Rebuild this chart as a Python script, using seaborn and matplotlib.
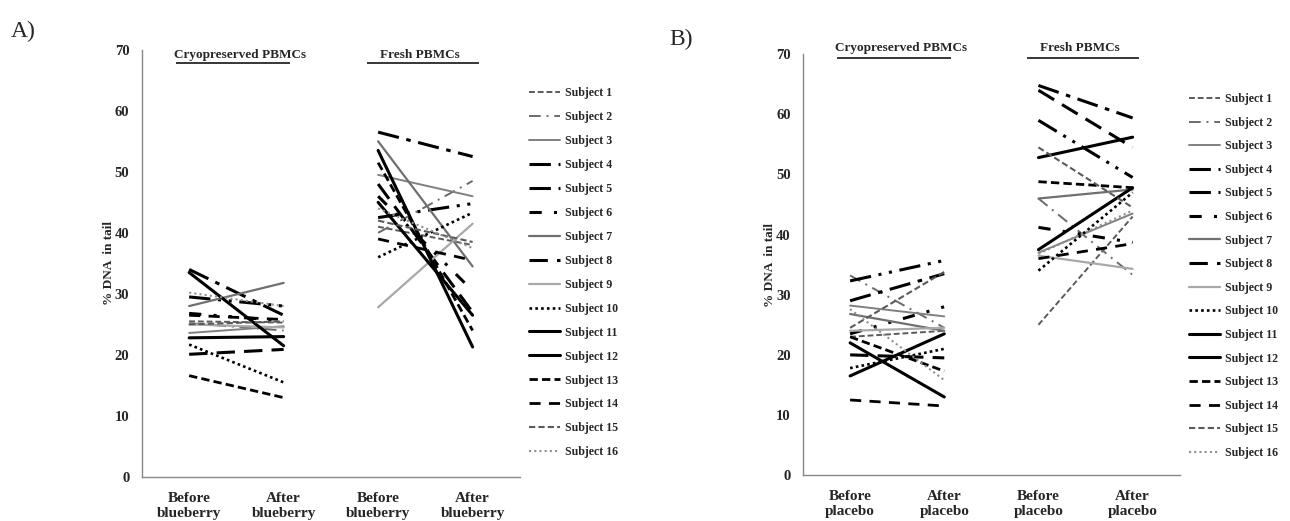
import pandas as pd
import numpy as np
from matplotlib import pyplot as plt
import seaborn as sns

### data: (before, after) per subject
subjects = ['Subject %d' % i for i in range(1, 17)]

# panel A - blueberry
a_cryo_before = [25.5, 25.2, 23.6, 34.0, 29.5, 26.8, 28.0, 20.1, 25.0, 21.7, 33.5, 22.8, 16.6, 26.5, 25.0, 30.2]
a_cryo_after = [25.3, 24.0, 24.7, 26.5, 28.0, 25.6, 31.8, 20.9, 24.5, 15.5, 21.5, 23.0, 13.0, 25.8, 25.5, 28.0]
a_fresh_before = [41.0, 40.0, 49.5, 56.5, 42.5, 46.0, 55.0, 48.0, 27.8, 36.0, 53.5, 45.0, 51.5, 39.0, 42.0, 44.0]
a_fresh_after = [38.0, 48.5, 46.0, 52.5, 44.8, 30.5, 34.5, 27.0, 41.5, 43.3, 21.3, 26.5, 24.0, 35.5, 38.5, 37.5]

# panel B - placebo
b_cryo_before = [23.0, 33.2, 28.2, 29.0, 32.3, 23.5, 26.8, 20.0, 24.0, 17.8, 22.0, 16.5, 23.0, 12.5, 24.5, 27.6]
b_cryo_after = [24.0, 24.5, 26.4, 33.5, 35.7, 28.0, 24.0, 19.5, 24.5, 21.0, 13.0, 23.5, 17.3, 11.5, 33.8, 15.8]
b_fresh_before = [25.0, 46.0, 37.0, 64.8, 59.0, 41.2, 46.0, 64.0, 36.5, 34.0, 37.5, 52.8, 48.8, 36.0, 54.5, 36.8]
b_fresh_after = [43.0, 33.3, 43.5, 59.4, 49.5, 38.7, 47.5, 54.5, 34.3, 47.0, 47.8, 56.2, 47.8, 38.5, 44.5, 44.0]

labels_a = ['Before\nblueberry', 'After\nblueberry', 'Before\nblueberry', 'After\nblueberry']
labels_b = ['Before\nplacebo', 'After\nplacebo', 'Before\nplacebo', 'After\nplacebo']

### line styles per subject (mimicking the excel-ish legend)
colors = ['#5a5a5a', '#6a6a6a', '#808080', 'black', 'black', 'black', '#707070', 'black',
          '#a8a8a8', 'black', 'black', 'black', 'black', 'black', '#5a5a5a', '#909090']
dash_list = [(3, 1.5), (6, 3, 1, 3), '', (7, 2.5, 1.5, 2.5), (7, 2.5, 1, 2.5, 1, 2.5), (4, 4, 1, 4, 1, 4),
             '', (6, 3), '', (1, 1.2), '', '', (3, 1.5), (4, 3), (3, 1.5), (1, 1.5)]
widths = [1.4, 1.4, 1.4, 2.2, 2.2, 2.2, 1.6, 2.2, 1.6, 1.9, 2.2, 2.2, 2.0, 2.0, 1.5, 1.5]
palette = dict(zip(subjects, colors))
dashes = dict(zip(subjects, dash_list))
sizes = dict(zip(subjects, widths))


def to_long(cb, ca, fb, fa):
    rows = []
    for i, s in enumerate(subjects):
        rows.append((s, 'cryo', 0, cb[i]))
        rows.append((s, 'cryo', 1, ca[i]))
        rows.append((s, 'fresh', 2, fb[i]))
        rows.append((s, 'fresh', 3, fa[i]))
    return pd.DataFrame(rows, columns=['subject', 'group', 'pos', 'value'])


df_a = to_long(a_cryo_before, a_cryo_after, a_fresh_before, a_fresh_after)
df_b = to_long(b_cryo_before, b_cryo_after, b_fresh_before, b_fresh_after)

sns.set_style('white')
plt.rcParams['font.family'] = ['Liberation Serif', 'DejaVu Serif']
plt.rcParams['font.weight'] = 'bold'

fig = plt.figure(figsize=(12.9, 5.21), dpi=100)
ax_a = fig.add_axes([0.110, 0.0845, 0.293, 0.820])
ax_b = fig.add_axes([0.6225, 0.088, 0.292, 0.808])


def draw(ax, df, xlabels, head_y, line_y, leg_y, leg_sp):
    sns.lineplot(data=df, x='pos', y='value', hue='subject', style='subject', size='subject',
                 units='group', estimator=None, hue_order=subjects, style_order=subjects,
                 size_order=subjects, palette=palette, dashes=dashes, sizes=sizes, ax=ax)
    ax.set_xlim(-0.5, 3.5)
    ax.set_ylim(0, 70)
    ax.set_yticks(range(0, 71, 10))
    ax.set_xticks(np.arange(-0.5, 3.6, 1))
    ax.set_xticklabels([])
    ax.set_xticks(range(4), minor=True)
    ax.set_xticklabels(xlabels, minor=True, fontsize=11, fontweight='bold')
    ax.tick_params(axis='x', which='minor', length=0, pad=11)
    ax.tick_params(axis='x', which='major', length=4, color='#888888', direction='out')
    ax.tick_params(axis='y', length=4, color='#888888', direction='out', labelsize=10.5, pad=5)
    for t in ax.get_yticklabels():
        t.set_fontweight('bold')
    for sp in ['top', 'right']:
        ax.spines[sp].set_visible(False)
    for sp in ['left', 'bottom']:
        ax.spines[sp].set_color('#888888')
        ax.spines[sp].set_linewidth(1.0)
    ax.set_xlabel('')
    ax.set_ylabel('% DNA  in tail', fontsize=9.5, fontweight='bold', labelpad=0)

    # group headers with underline
    ax.text(0.54, head_y, 'Cryopreserved PBMCs', ha='center', va='center', fontsize=9.5, fontweight='bold')
    ax.text(2.44, head_y, 'Fresh PBMCs', ha='center', va='center', fontsize=9.5, fontweight='bold')
    ax.hlines(line_y, -0.14, 1.07, color='black', lw=1.1, clip_on=False)
    ax.hlines(line_y, 1.88, 3.07, color='black', lw=1.1, clip_on=False)

    sns.move_legend(ax, 'center left', bbox_to_anchor=(0.995, leg_y), frameon=False, title=None,
                    handlelength=2.6, labelspacing=leg_sp, handletextpad=0.45,
                    prop={'weight': 'bold', 'size': 8.6})


draw(ax_a, df_a, labels_a, 69.2, 67.9, 0.478, 1.0)
draw(ax_b, df_b, labels_b, 71.0, 69.3, 0.473, 0.97)

fig.text(0.008, 0.94, 'A)', fontsize=17, fontweight='normal', va='center')
fig.text(0.519, 0.925, 'B)', fontsize=17, fontweight='normal', va='center')

plt.savefig('out.png', dpi=100)
